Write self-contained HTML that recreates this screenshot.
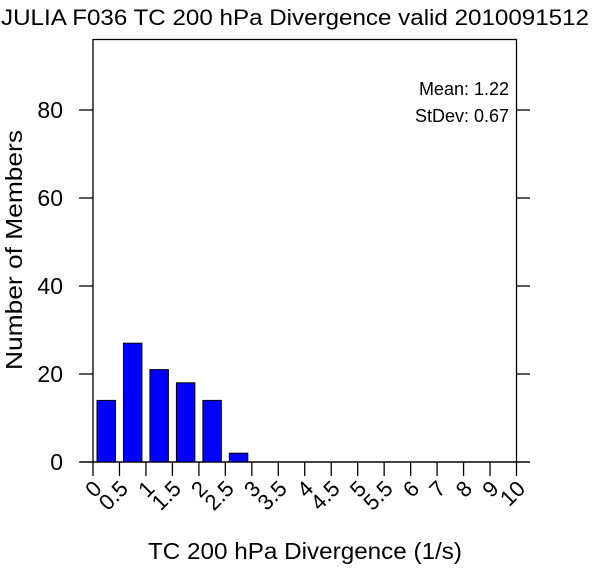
<!DOCTYPE html>
<html><head><meta charset="utf-8"><style>
html,body{margin:0;padding:0;background:#fff;}
svg text{font-family:"Liberation Sans",Arial,sans-serif;fill:#000;}
</style></head><body>
<svg id="chart" width="600" height="567" viewBox="0 0 600 567" xmlns="http://www.w3.org/2000/svg">
<text x="1" y="25" font-size="22" textLength="588" lengthAdjust="spacingAndGlyphs">JULIA F036 TC 200 hPa Divergence valid 2010091512</text>
<rect x="93" y="39.5" width="423.5" height="422.5" fill="none" stroke="#000" stroke-width="1.3"/>
<line x1="80" x2="530" y1="462" y2="462" stroke="#000" stroke-width="1.3"/>
<g id="bars"></g>
<g id="yticks"></g>
<g id="xticks"></g>
<text x="509" y="95" font-size="18" text-anchor="end">Mean: 1.22</text>
<text x="509" y="122" font-size="18" text-anchor="end">StDev: 0.67</text>
<text x="148" y="559" font-size="23" textLength="314" lengthAdjust="spacingAndGlyphs">TC 200 hPa Divergence (1/s)</text>
<text transform="translate(22,370) rotate(-90)" font-size="23" textLength="240" lengthAdjust="spacingAndGlyphs">Number of Members</text>
</svg>
<script>
const xLabels = ["0","0.5","1","1.5","2","2.5","3","3.5","4","4.5","5","5.5","6","7","8","9","10"];
const counts = [14,27,21,18,14,2,0,0,0,0,0,0,0,0,0,0];
const yTicks = [0,20,40,60,80];
const NS="http://www.w3.org/2000/svg";
const L=93,R=516.5,B=462,T=39.5;
const nb=xLabels.length-1, bw=(R-L)/nb;
function xs(i){return L+i*bw;}
function ys(v){return B-v*4.4;}
function mk(t,a,p){const e=document.createElementNS(NS,t);for(const k in a)e.setAttribute(k,a[k]);p.appendChild(e);return e;}
const gb=document.getElementById('bars');
counts.forEach((c,i)=>{
  if(c<=0)return;
  const r=mk('rect',{x:xs(i)+4,y:ys(c),width:bw-8,height:B-ys(c),fill:'#0000ff',stroke:'#000','stroke-width':1},gb);
  
  
});
const gy=document.getElementById('yticks');
yTicks.forEach(v=>{
  const y=ys(v);
  mk('line',{x1:79,x2:L,y1:y,y2:y,stroke:'#000','stroke-width':1.3},gy);
  mk('line',{x1:R,x2:530,y1:y,y2:y,stroke:'#000','stroke-width':1.3},gy);
  const t=mk('text',{x:63,y:y+8,'font-size':23,'text-anchor':'end'},gy);
  t.textContent=v;
  
  
});
const gx=document.getElementById('xticks');
xLabels.forEach((lab,i)=>{
  const x=xs(i);
  mk('line',{x1:x,x2:x,y1:B,y2:476,stroke:'#000','stroke-width':1.3},gx);
  const ax=x+10, ay=490;
  const t=mk('text',{x:ax,y:ay,'font-size':22,'text-anchor':'end',transform:'rotate(-45 '+ax+' '+ay+')'},gx);
  t.textContent=lab;
  
  
});
</script>
</body></html>
